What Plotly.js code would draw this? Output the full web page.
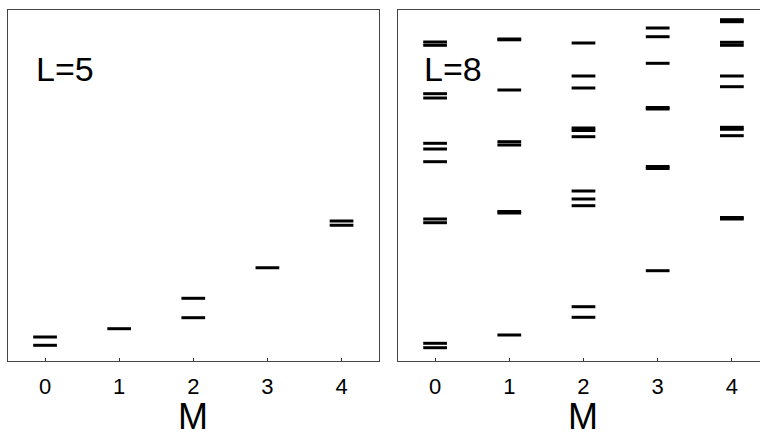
<!DOCTYPE html>
<html>
<head>
<meta charset="utf-8">
<script src="https://cdn.plot.ly/plotly-3.0.1.min.js"></script>
<style>
  html, body { margin: 0; padding: 0; background: #fff; overflow: hidden; }
  #chart { width: 760px; height: 434px; }
</style>
</head>
<body>
<div id="chart"></div>
<script>
// Angular momentum projections
const M = [0, 1, 2, 3, 4];
const tickLabels = ["0", "1", "2", "3", "4"];
const xTitle = "M";

// Energy levels (arbitrary units), L = 5
const L5_M0 = [2.40, 1.57];
const L5_M1 = [3.23];
const L5_M2 = [6.27, 4.33];
const L5_M3 = [9.33];
const L5_M4 = [14.00, 13.57];

// Energy levels (arbitrary units), L = 8
const L8_M0 = [31.90, 31.57, 26.73, 26.30, 21.77, 21.20, 19.93, 14.20, 13.83, 1.77, 1.33];
const L8_M1 = [32.20, 32.12, 27.10, 21.93, 21.60, 14.95, 14.80, 2.60];
const L8_M2 = [31.80, 28.50, 27.30, 23.30, 23.05, 22.43, 17.00, 16.20, 15.53, 5.43, 4.37];
const L8_M3 = [33.30, 32.43, 29.77, 25.35, 25.20, 19.45, 19.25, 9.03];
const L8_M4 = [34.13, 33.93, 31.87, 31.57, 28.50, 27.43, 23.37, 23.17, 22.53, 14.35, 14.20];

const panels = [
  { label: "L=5", levels: [L5_M0, L5_M1, L5_M2, L5_M3, L5_M4], xa: "x", ya: "y" },
  { label: "L=8", levels: [L8_M0, L8_M1, L8_M2, L8_M3, L8_M4], xa: "x2", ya: "y2" }
];

const halfWidth = 0.16;
const traces = panels.map(p => {
  const xs = [], ys = [];
  p.levels.forEach((arr, i) => {
    arr.forEach(e => {
      xs.push(M[i] - halfWidth, M[i] + halfWidth, null);
      ys.push(e, e, null);
    });
  });
  return {
    type: "scatter", mode: "lines", x: xs, y: ys,
    xaxis: p.xa, yaxis: p.ya,
    line: { color: "#000", width: 3 },
    hoverinfo: "skip", showlegend: false
  };
});

const font = "Liberation Sans, Arial, Helvetica, sans-serif";
const xBase = {
  tickvals: M, ticktext: tickLabels,
  ticks: "inside", ticklen: 3, tickwidth: 1, tickcolor: "#333",
  ticklabelstandoff: 5,
  showline: true, mirror: true, linecolor: "#444", linewidth: 1.3,
  showgrid: false, zeroline: false, fixedrange: true,
  tickfont: { family: font, size: 22, color: "#000" }
};
const yBase = {
  range: [0, 35.1], showticklabels: false, ticks: "",
  showline: true, linecolor: "#444", linewidth: 1.3,
  showgrid: false, zeroline: false, fixedrange: true
};

const annotations = [];
panels.forEach((p, k) => {
  annotations.push({
    text: p.label, xref: p.xa, yref: p.ya, x: k === 0 ? -0.15 : -0.17, y: 27.1,
    xanchor: "left", yanchor: "bottom", showarrow: false,
    font: { family: font, size: 34, color: "#000" }
  });
  annotations.push({
    text: xTitle, xref: p.xa, yref: "paper", x: M[2], y: -0.157,
    xanchor: "center", yanchor: "middle", showarrow: false, borderpad: 0,
    font: { family: font, size: 36, color: "#000" }
  });
});

const layout = {
  width: 760, height: 434,
  margin: { l: 8, r: 0, t: 10, b: 73 },
  paper_bgcolor: "#fff", plot_bgcolor: "#fff",
  showlegend: false,
  xaxis: Object.assign({}, xBase, { domain: [0, 0.4928], range: [-0.5, 4.5], anchor: "y" }),
  yaxis: Object.assign({}, yBase, { domain: [0, 1], mirror: true, anchor: "x" }),
  xaxis2: Object.assign({}, xBase, { domain: [0.5186, 1], range: [-0.5, 4.379], anchor: "y2" }),
  yaxis2: Object.assign({}, yBase, { domain: [0, 1], mirror: false, anchor: "x2" }),
  annotations: annotations
};

Plotly.newPlot("chart", traces, layout, { staticPlot: true, displayModeBar: false });
</script>
</body>
</html>
